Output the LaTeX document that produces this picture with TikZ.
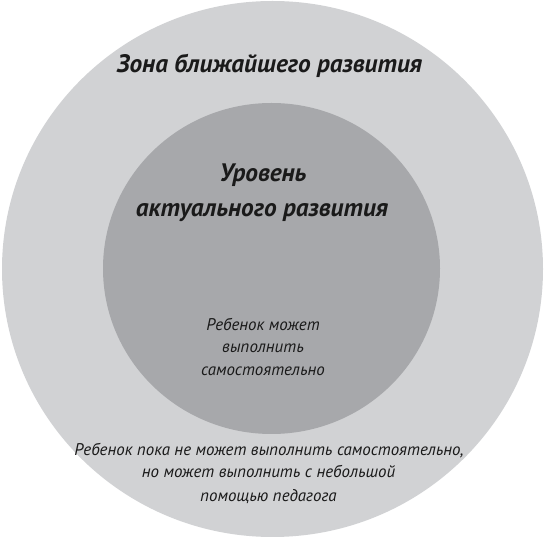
\documentclass[tikz,border=0pt]{standalone}
\usepackage{fontspec}
\setmainfont{PT Sans}
\definecolor{outergray}{HTML}{D1D2D4}
\definecolor{innergray}{HTML}{A7A8AB}
\definecolor{ink}{HTML}{1A1A1A}
\begin{document}
\begin{tikzpicture}[x=1pt,y=1pt,
  headtxt/.style={font=\fontsize{25.3}{29}\selectfont\bfseries\itshape, text=ink, anchor=base, inner sep=0pt},
  bodytxt/.style={font=\fontsize{16.9}{20}\selectfont\itshape, text=ink, anchor=base, inner sep=0pt}]
\useasboundingbox (0,0) rectangle (544,544);
\fill[outergray] (272.5,275) ellipse [x radius=270.5, y radius=268];
\fill[innergray] (271.5,275.5) ellipse [x radius=168.5, y radius=165.5];
\node[headtxt] (zone) at (269.5,471) {Зона ближайшего развития};
\node[headtxt] (lvl1) at (263,362) {Уровень};
\node[headtxt] (lvl2) at (262,327) {актуального развития};
\node[bodytxt] (in1) at (263,213.3) {Ребенок может};
\node[bodytxt] (in2) at (263,191) {выполнить};
\node[bodytxt] (in3) at (263,168) {самостоятельно};
\node[bodytxt] (out1) at (269,88) {Ребенок пока не может выполнить самостоятельно,};
\node[bodytxt] (out2) at (268.5,66) {но может выполнить с небольшой};
\node[bodytxt] (out3) at (268.5,42) {помощью педагога};
\end{tikzpicture}
\end{document}
